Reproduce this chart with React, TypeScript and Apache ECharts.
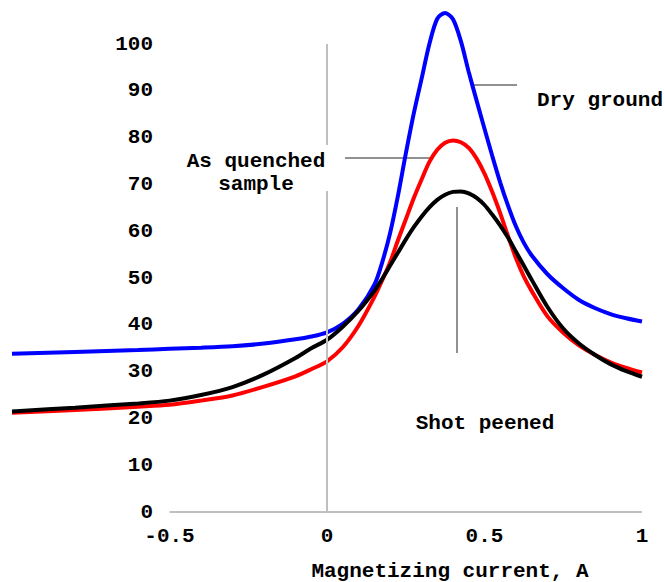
import React, { useEffect, useRef } from 'react';
import * as echarts from 'echarts';

// Magnetizing current, A (shared sample positions)
const currentA = [
  -1.0, -0.8, -0.6, -0.5, -0.4, -0.3, -0.2, -0.1, -0.05, 0, 0.05, 0.1, 0.15, 0.175, 0.2, 0.225, 0.25,
  0.275, 0.3, 0.325, 0.35, 0.375, 0.4, 0.425, 0.45, 0.475, 0.5, 0.525, 0.55, 0.575, 0.6, 0.625, 0.65,
  0.7, 0.75, 0.8, 0.85, 0.9, 0.95, 1.0,
];

// Dry ground (blue)
const dryGround = [
  33.8, 34.2, 34.6, 34.9, 35.1, 35.4, 36.0, 36.9, 37.5, 38.4, 40.2, 43.3, 48.5, 53.3, 59.5, 67.5, 76.5,
  85.0, 92.5, 100.0, 105.4, 106.6, 105.3, 100.6, 94.0, 87.9, 81.9, 76.0, 70.4, 65.4, 61.0, 57.5, 54.8,
  50.8, 47.8, 45.3, 43.6, 42.3, 41.4, 40.7,
];

// As quenched sample (red)
const asQuenched = [
  21.2, 21.8, 22.5, 22.9, 23.8, 24.9, 26.8, 29.0, 30.5, 32.2, 35.2, 39.8, 45.9, 49.5, 53.3, 58.0, 62.5,
  67.0, 71.0, 74.8, 77.4, 78.9, 79.4, 79.0, 77.8, 75.5, 72.3, 68.3, 63.8, 58.9, 54.2, 50.3, 47.2,
  41.8, 38.3, 35.6, 33.6, 32.0, 30.8, 29.8,
];

// Shot peened (black)
const shotPeened = [
  21.5, 22.3, 23.2, 23.8, 25.0, 26.7, 29.4, 32.9, 35.0, 36.8, 39.6, 43.0, 47.2, 49.8, 52.6, 55.4, 58.2,
  60.8, 63.1, 65.1, 66.7, 67.8, 68.4, 68.5, 68.1, 67.1, 65.6, 63.5, 61.2, 58.6, 55.6, 52.6, 49.6,
  43.8, 39.2, 36.0, 33.6, 31.6, 30.1, 28.9,
];

// Axis guide lines: horizontal x-axis extent and the broken vertical zero line
const xAxisLineRange = [-0.5, 1];
const zeroLineSegments = [
  [0, 68.6],
  [78.4, 100],
];

const xAxisName = 'Magnetizing current, A';

export default function App() {
  const ref = useRef<HTMLDivElement>(null);

  useEffect(() => {
    document.body.style.margin = '0';
    const chart = echarts.init(ref.current!, null, { renderer: 'svg' });
    const font = '"Liberation Mono", "Courier New", monospace';
    const txt = (size: number) => `bold ${size}px ${font}`;
    const pair = (ys: number[]) => currentA.map((x, i) => [x, ys[i]]);
    const gray = '#bfbfbf';

    const curve = (name: string, ys: number[], color: string) => ({
      name,
      type: 'line',
      data: pair(ys),
      smooth: 0.3,
      showSymbol: false,
      symbol: 'none',
      clip: false,
      lineStyle: { color, width: 4 },
    });

    chart.setOption({
      animation: false,
      grid: { left: 12, right: 23, top: 44, bottom: 70, containLabel: false },
      xAxis: {
        type: 'value',
        min: -1,
        max: 1,
        interval: 0.5,
        axisLine: { show: false },
        axisTick: { show: false },
        splitLine: { show: false },
        axisLabel: {
          margin: 14,
          fontFamily: font,
          fontWeight: 'bold',
          fontSize: 21,
          color: '#000',
          formatter: (v: number) => (v === -1 ? '' : String(v)),
        },
      },
      yAxis: {
        type: 'value',
        min: 0,
        max: 100,
        interval: 10,
        offset: -157,
        axisLine: { show: false },
        axisTick: { show: false },
        splitLine: { show: false },
        axisLabel: { margin: 16, fontFamily: font, fontWeight: 'bold', fontSize: 21, color: '#000' },
      },
      series: [
        {
          type: 'line',
          data: [[0, 0]],
          showSymbol: false,
          symbol: 'none',
          lineStyle: { opacity: 0 },
          silent: true,
          markLine: {
            silent: true,
            symbol: ['none', 'none'],
            label: { show: false },
            lineStyle: { color: gray, width: 2, type: 'solid' },
            data: [
              [{ coord: [xAxisLineRange[0], 0] }, { coord: [xAxisLineRange[1], 0] }],
              ...zeroLineSegments.map(([a, b]) => [{ coord: [0, a] }, { coord: [0, b] }]),
            ],
          },
        },
        curve('Dry ground', dryGround, '#0000ff'),
        curve('As quenched sample', asQuenched, '#ff0000'),
        curve('Shot peened', shotPeened, '#000000'),
      ],
      graphic: [
        { type: 'text', style: { text: 'Dry ground', x: 537, y: 100, font: txt(21), fill: '#000', textAlign: 'left', textVerticalAlign: 'middle' } },
        { type: 'line', shape: { x1: 471, y1: 85, x2: 517, y2: 85 }, style: { stroke: '#222', lineWidth: 1 } },
        { type: 'text', style: { text: 'As quenched', x: 256, y: 161, font: txt(21), fill: '#000', textAlign: 'center', textVerticalAlign: 'middle' } },
        { type: 'text', style: { text: 'sample', x: 256, y: 184, font: txt(21), fill: '#000', textAlign: 'center', textVerticalAlign: 'middle' } },
        { type: 'line', shape: { x1: 345, y1: 158, x2: 430, y2: 158 }, style: { stroke: '#222', lineWidth: 1 } },
        { type: 'text', style: { text: 'Shot peened', x: 485, y: 423, font: txt(21), fill: '#000', textAlign: 'center', textVerticalAlign: 'middle' } },
        { type: 'line', shape: { x1: 457, y1: 207, x2: 457, y2: 353 }, style: { stroke: '#222', lineWidth: 1 } },
        { type: 'text', style: { text: xAxisName, x: 450, y: 571, font: txt(21), fill: '#000', textAlign: 'center', textVerticalAlign: 'middle' } },
      ],
    });

    return () => chart.dispose();
  }, []);

  return <div ref={ref} style={{ width: 665, height: 582 }} />;
}
